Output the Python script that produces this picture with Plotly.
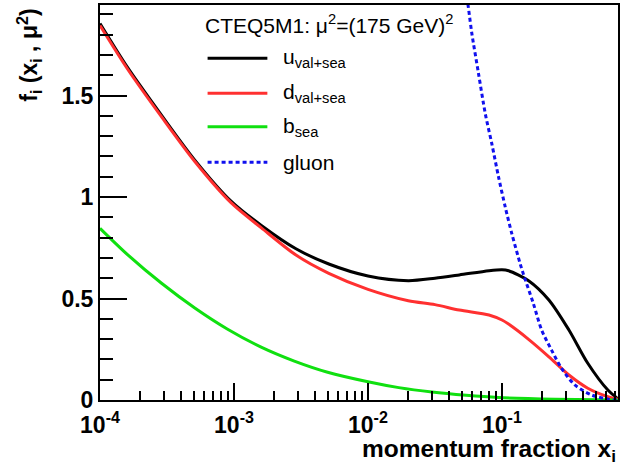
import plotly.graph_objects as go

# ---------------- data ----------------
x_ud = [1.0e-4, 1.6e-4, 2.9e-4, 5.1e-4, 9.5e-4, 1.6e-3, 2.9e-3, 5.1e-3, 0.01, 0.02,
        0.0316, 0.048, 0.08, 0.1, 0.112, 0.158, 0.224, 0.316, 0.437, 0.617, 0.734]
u_val_sea = [1.855, 1.640, 1.400, 1.182, 0.980, 0.860, 0.745, 0.670, 0.611, 0.588,
             0.600, 0.616, 0.637, 0.642, 0.637, 0.588, 0.493, 0.345, 0.181, 0.049, 0.006]
d_val_sea = [1.845, 1.632, 1.392, 1.175, 0.972, 0.848, 0.714, 0.624, 0.545, 0.489,
             0.470, 0.443, 0.419, 0.394, 0.374, 0.299, 0.213, 0.123, 0.058, 0.016, 0.003]

x_b = [1.0e-4, 1.62e-4, 2.88e-4, 5.13e-4, 8.9e-4, 1.58e-3, 2.82e-3, 5.0e-3, 0.01, 0.017,
       0.030, 0.054, 0.094, 0.25, 0.734]
b_sea = [0.846, 0.714, 0.575, 0.452, 0.350, 0.262, 0.192, 0.137, 0.090, 0.061,
         0.039, 0.023, 0.012, 0.004, 0.0]

x_g = [0.0398, 0.0557, 0.0596, 0.0668, 0.075, 0.0839, 0.0942, 0.1057, 0.1183, 0.1365,
       0.1445, 0.1714, 0.1977, 0.2344, 0.2786, 0.35, 0.4656, 0.631, 0.734]
gluon = [2.6, 1.95, 1.806, 1.609, 1.412, 1.264, 1.100, 0.952, 0.821, 0.673,
         0.620, 0.476, 0.345, 0.246, 0.156, 0.074, 0.025, 0.003, 0.0]

x_tickvals = [1e-4, 1e-3, 1e-2, 1e-1]
x_ticktext = ["10<sup>-4</sup>", "10<sup>-3</sup>", "10<sup>-2</sup>", "10<sup>-1</sup>"]
x_minor_mantissas = [2, 3, 4, 5, 6, 7, 8, 9]
y_tickvals = [0, 0.5, 1, 1.5]
y_ticktext = ["0", "0.5", "1", "1.5"]

legend_labels = ["u<sub>val+sea</sub>", "d<sub>val+sea</sub>", "b<sub>sea</sub>", "gluon"]
legend_colors = ["#000000", "#ff3030", "#10e010", "#1010ee"]
legend_dash = ["solid", "solid", "solid", "4px,3px"]
header = "CTEQ5M1: μ<sup>2</sup>=(175 GeV)<sup>2</sup>"

FONT = "Liberation Sans, Arial, Helvetica, sans-serif"

x_minor_vals = [m * d for d in x_tickvals for m in x_minor_mantissas]

fig = go.Figure()
series = [(x_ud, u_val_sea), (x_ud, d_val_sea), (x_b, b_sea), (x_g, gluon)]
for (xs, ys), col, dash in zip(series, legend_colors, legend_dash):
    fig.add_trace(go.Scatter(x=xs, y=ys, mode="lines", showlegend=False,
                             line=dict(color=col, width=3, dash=dash,
                                       shape="spline", smoothing=0.8)))

# manual legend (ROOT TLegend style, no border)
leg_y = [0.865, 0.7765, 0.692, 0.6018]
for lab, col, dash, yy in zip(legend_labels, legend_colors, legend_dash, leg_y):
    fig.add_shape(type="line", xref="paper", yref="paper", x0=0.2077, x1=0.3231,
                  y0=yy, y1=yy, line=dict(color=col, width=3, dash=dash))
    fig.add_annotation(xref="paper", yref="paper", x=0.349, y=yy, xanchor="left",
                       yanchor="middle", text=lab, showarrow=False,
                       font=dict(family=FONT, size=21, color="black"))
fig.add_annotation(xref="paper", yref="paper", x=0.198, y=0.952, xanchor="left",
                   yanchor="middle", text=header, showarrow=False,
                   font=dict(family=FONT, size=21, color="black"))

# axis titles
fig.add_annotation(xref="paper", yref="paper", x=1.0, y=-0.128, xanchor="right",
                   yanchor="middle", showarrow=False,
                   text="<b>momentum fraction x<sub>i</sub></b>",
                   font=dict(family=FONT, size=24.5, color="black"))
fig.add_annotation(xref="paper", yref="paper", x=-0.1365, y=0.995, xanchor="center",
                   yanchor="top", textangle=-90, showarrow=False,
                   text="<b>f<sub>i</sub> (x<sub>i</sub> , μ<sup>2</sup>)</b>",
                   font=dict(family=FONT, size=23, color="black"))

fig.update_layout(
    width=623, height=465,
    margin=dict(l=100, r=3, t=5, b=65),
    paper_bgcolor="white", plot_bgcolor="white",
    font=dict(family=FONT, color="black"),
)
fig.update_xaxes(type="log", range=[-4, -0.134], showgrid=False, zeroline=False,
                 showline=True, linecolor="black", linewidth=2, mirror=True,
                 ticks="inside", ticklen=17, tickwidth=2, tickcolor="black",
                 tickvals=x_tickvals, ticktext=x_ticktext, ticklabelstandoff=3,
                 tickfont=dict(family=FONT, size=23, color="black", weight="bold"),
                 minor=dict(ticks="inside", ticklen=9, tickwidth=1.5, tickcolor="black",
                            tickmode="array", tickvals=x_minor_vals, showgrid=False))
fig.update_yaxes(range=[0, 1.946], showgrid=False, zeroline=False,
                 showline=True, linecolor="black", linewidth=2, mirror=True,
                 ticks="inside", ticklen=27, tickwidth=2, tickcolor="black",
                 tickvals=y_tickvals, ticktext=y_ticktext,
                 tickfont=dict(family=FONT, size=23, color="black", weight="bold"),
                 minor=dict(ticks="inside", ticklen=13, tickwidth=1.5, tickcolor="black",
                            dtick=0.1, tick0=0, showgrid=False))

fig.write_html("out.html")
